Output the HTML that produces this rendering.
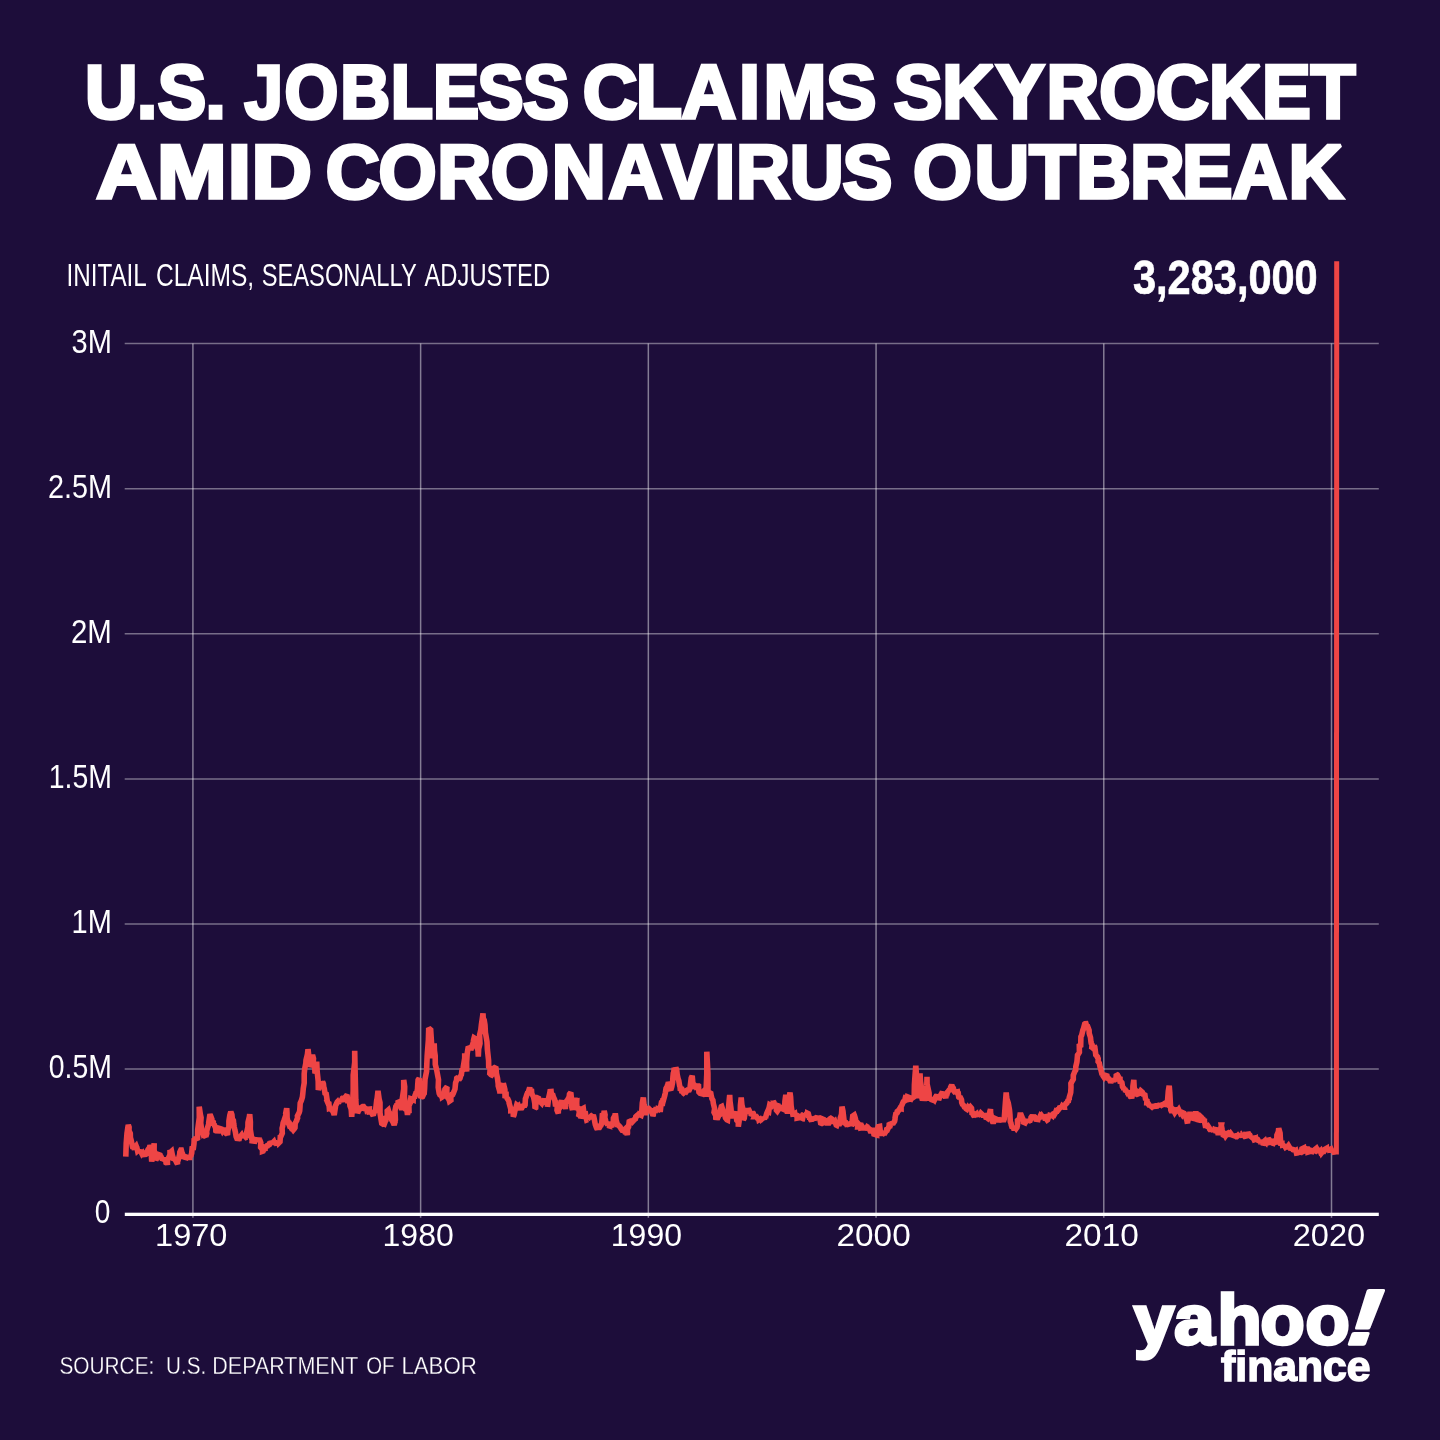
<!DOCTYPE html>
<html lang="en"><head><meta charset="utf-8"><title>U.S. Jobless Claims Skyrocket Amid Coronavirus Outbreak</title>
<style>
html,body{margin:0;padding:0;background:#1d0d3a;}
body{width:1440px;height:1440px;overflow:hidden;}
svg{display:block;}
text{font-family:"Liberation Sans",sans-serif;fill:#fff;}
.title{font-weight:bold;stroke:#fff;stroke-width:3.6px;stroke-linejoin:miter;stroke-miterlimit:2.5;}
.big{font-weight:bold;stroke:#fff;stroke-width:0.7px;stroke-linejoin:miter;}
.src{stroke:#1d0d3a;stroke-width:0.3px;paint-order:fill stroke;}
.logo{font-weight:bold;stroke:#fff;stroke-linejoin:miter;stroke-miterlimit:2.5;}
</style></head><body>
<svg width="1440" height="1440" viewBox="0 0 1440 1440">
<rect width="1440" height="1440" fill="#1d0d3a"/>
<text class="title" transform="scale(0.9464,1)" x="89.88 144.89 166.6 217.1" y="118.2" font-size="76.8">U.S.</text>
<text class="title" transform="scale(0.9005,1)" x="271.59 315.9 377.86 433.82 480.9 530.37 580.69" y="118.2" font-size="76.8">JOBLESS</text>
<text class="title" transform="scale(0.9850,1)" x="591.73 645.33 691.91 750.31 775.11 838.63" y="118.2" font-size="76.8">CLAIMS</text>
<text class="title" transform="scale(0.9522,1)" x="938.53 989.51 1045.67 1099.1 1154.5 1213.95 1269.8 1325.23 1376.52" y="118.2" font-size="76.8">SKYROCKET</text>
<text class="title" transform="scale(1.0891,1)" x="88.41 144.17 209.17 230.85" y="198.2" font-size="76.8">AMID</text>
<text class="title" transform="scale(0.9735,1)" x="334.52 388.79 449.22 504.17 566.79 625.0 680.39 734.02 756.07 811.26 865.35" y="198.2" font-size="76.8">CORONAVIRUS</text>
<text class="title" transform="scale(0.9868,1)" x="925.18 987.53 1043.14 1090.65 1145.09 1197.9 1248.75 1305.75" y="198.2" font-size="76.8">OUTBREAK</text>
<text class="sub" x="66.49" y="286.0" font-size="31.68" textLength="80.35" lengthAdjust="spacingAndGlyphs">INITAIL</text>
<text class="sub" x="155.97" y="286.0" font-size="31.68" textLength="98.2" lengthAdjust="spacingAndGlyphs">CLAIMS,</text>
<text class="sub" x="261.69" y="286.0" font-size="31.68" textLength="155.04" lengthAdjust="spacingAndGlyphs">SEASONALLY</text>
<text class="sub" x="424.47" y="286.0" font-size="31.68" textLength="125.62" lengthAdjust="spacingAndGlyphs">ADJUSTED</text>
<text class="big" x="1132.98" y="294.09" font-size="48.28" textLength="184.75" lengthAdjust="spacingAndGlyphs">3,283,000</text>
<g stroke="#fff" stroke-opacity="0.40" stroke-width="1.5" fill="none">
<line x1="124.7" y1="343.60" x2="1378.8" y2="343.60"/>
<line x1="124.7" y1="488.70" x2="1378.8" y2="488.70"/>
<line x1="124.7" y1="633.80" x2="1378.8" y2="633.80"/>
<line x1="124.7" y1="778.90" x2="1378.8" y2="778.90"/>
<line x1="124.7" y1="924.00" x2="1378.8" y2="924.00"/>
<line x1="124.7" y1="1069.10" x2="1378.8" y2="1069.10"/>
<line x1="192.90" y1="343.6" x2="192.90" y2="1217.8" stroke-opacity="0.46"/>
<line x1="420.62" y1="343.6" x2="420.62" y2="1217.8" stroke-opacity="0.46"/>
<line x1="648.34" y1="343.6" x2="648.34" y2="1217.8" stroke-opacity="0.46"/>
<line x1="876.06" y1="343.6" x2="876.06" y2="1217.8" stroke-opacity="0.46"/>
<line x1="1103.78" y1="343.6" x2="1103.78" y2="1217.8" stroke-opacity="0.46"/>
<line x1="1331.50" y1="343.6" x2="1331.50" y2="1217.8" stroke-opacity="0.46"/>
</g>
<rect x="124.8" y="1212.7" width="1254" height="3.3" fill="#fff"/>
<text class="ylab" x="71.51" y="353" font-size="33.79" textLength="40.4" lengthAdjust="spacingAndGlyphs">3M</text>
<text class="ylab" x="47.9" y="498" font-size="33.79" textLength="64.01" lengthAdjust="spacingAndGlyphs">2.5M</text>
<text class="ylab" x="70.92" y="643" font-size="33.79" textLength="40.95" lengthAdjust="spacingAndGlyphs">2M</text>
<text class="ylab" x="48.69" y="788" font-size="33.79" textLength="63.25" lengthAdjust="spacingAndGlyphs">1.5M</text>
<text class="ylab" x="71.6" y="933" font-size="33.79" textLength="40.31" lengthAdjust="spacingAndGlyphs">1M</text>
<text class="ylab" x="48.75" y="1078" font-size="33.79" textLength="63.16" lengthAdjust="spacingAndGlyphs">0.5M</text>
<text class="ylab" x="94.76" y="1223" font-size="33.79" textLength="15.63" lengthAdjust="spacingAndGlyphs">0</text>
<text class="xlab" x="155.09" y="1245.8" font-size="31.24" textLength="72.36" lengthAdjust="spacingAndGlyphs">1970</text>
<text class="xlab" x="382.55" y="1245.8" font-size="31.24" textLength="71.18" lengthAdjust="spacingAndGlyphs">1980</text>
<text class="xlab" x="610.83" y="1245.8" font-size="31.24" textLength="71.18" lengthAdjust="spacingAndGlyphs">1990</text>
<text class="xlab" x="836.56" y="1245.8" font-size="31.24" textLength="74.12" lengthAdjust="spacingAndGlyphs">2000</text>
<text class="xlab" x="1064.53" y="1245.8" font-size="31.24" textLength="74.29" lengthAdjust="spacingAndGlyphs">2010</text>
<text class="xlab" x="1292.74" y="1245.8" font-size="31.24" textLength="72.37" lengthAdjust="spacingAndGlyphs">2020</text>
<path d="M125.8,1156.7 L126.2,1143.5 L127.0,1133.3 L127.9,1127.3 L128.3,1125.0 L129.1,1127.2 L129.0,1130.6 L130.3,1133.3 L130.4,1137.5 L131.2,1140.4 L132.5,1146.7 L133.0,1148.3 L133.2,1145.9 L134.5,1149.4 L135.0,1147.2 L136.1,1145.9 L136.6,1147.2 L136.7,1148.3 L136.8,1147.3 L137.6,1151.0 L138.1,1150.6 L139.4,1150.3 L139.9,1149.5 L139.8,1150.8 L141.3,1152.4 L141.7,1153.3 L142.0,1153.9 L142.9,1152.9 L144.0,1154.8 L143.8,1154.5 L144.8,1156.0 L145.7,1153.7 L146.7,1153.1 L146.7,1155.0 L147.2,1154.1 L147.5,1151.0 L148.0,1149.7 L149.7,1147.3 L150.0,1145.0 L151.1,1149.7 L151.4,1156.5 L151.7,1161.7 L152.4,1156.9 L153.4,1154.5 L153.5,1148.6 L154.2,1143.3 L154.1,1149.8 L155.5,1156.6 L155.8,1160.0 L156.9,1158.3 L156.9,1159.3 L157.0,1157.7 L157.7,1155.5 L158.2,1157.6 L158.9,1154.6 L160.0,1155.0 L160.5,1157.3 L160.7,1156.0 L161.9,1158.6 L162.9,1159.1 L162.8,1157.8 L163.6,1160.4 L165.0,1157.8 L165.0,1160.0 L165.2,1160.1 L165.9,1162.4 L167.0,1162.7 L167.5,1165.0 L167.4,1160.9 L168.6,1157.8 L170.0,1154.6 L170.0,1150.0 L170.7,1152.2 L171.6,1151.4 L172.6,1156.2 L173.2,1158.0 L173.3,1158.3 L173.8,1158.7 L174.0,1160.6 L174.5,1158.9 L175.3,1160.2 L176.1,1160.5 L176.2,1161.8 L177.5,1164.2 L177.6,1160.7 L178.2,1160.1 L179.7,1154.1 L179.8,1152.2 L180.8,1150.0 L181.3,1150.0 L182.7,1155.5 L182.8,1154.9 L182.9,1154.9 L184.2,1158.3 L184.5,1157.2 L185.8,1156.6 L185.3,1160.0 L186.6,1156.3 L187.2,1155.7 L187.8,1159.7 L188.3,1157.5 L189.5,1157.5 L189.3,1155.2 L189.9,1156.2 L191.0,1155.4 L191.7,1153.3 L192.1,1148.4 L193.4,1148.0 L194.0,1143.4 L194.2,1138.3 L195.3,1139.7 L195.1,1139.1 L196.0,1137.3 L196.2,1138.7 L197.5,1140.0 L197.7,1129.7 L199.3,1117.5 L199.2,1106.7 L200.4,1114.6 L201.1,1117.7 L200.7,1123.0 L201.7,1130.0 L201.8,1129.7 L203.0,1133.7 L203.9,1132.8 L204.3,1135.1 L204.1,1135.5 L205.8,1137.0 L205.8,1136.7 L206.8,1133.4 L206.6,1131.5 L207.4,1128.3 L208.9,1123.4 L208.7,1122.6 L209.7,1115.9 L210.0,1114.2 L210.1,1114.5 L211.9,1119.2 L211.5,1121.1 L213.3,1122.2 L213.3,1123.3 L213.7,1125.0 L214.0,1124.1 L215.8,1128.3 L215.8,1131.0 L216.2,1132.1 L217.4,1130.6 L217.5,1133.3 L217.8,1130.8 L218.4,1130.4 L219.0,1128.0 L220.0,1126.7 L220.1,1129.1 L221.0,1127.7 L222.0,1130.3 L222.4,1131.0 L223.1,1129.9 L223.8,1128.3 L224.3,1129.6 L225.0,1131.7 L224.9,1133.8 L225.8,1133.2 L227.2,1134.4 L227.5,1135.0 L227.9,1130.4 L228.9,1126.9 L228.9,1121.3 L229.8,1115.4 L230.8,1111.7 L231.9,1114.7 L232.3,1118.8 L233.4,1120.4 L233.7,1123.7 L234.2,1126.7 L234.9,1130.2 L235.4,1132.1 L236.1,1136.6 L237.1,1139.0 L237.5,1140.0 L238.7,1138.2 L238.8,1140.5 L239.8,1136.3 L239.4,1136.9 L239.9,1135.3 L240.5,1136.5 L241.7,1135.0 L242.7,1137.0 L242.4,1136.4 L243.8,1134.1 L244.7,1137.9 L244.4,1138.0 L245.3,1136.2 L246.7,1137.9 L246.7,1136.7 L246.8,1131.9 L247.9,1127.0 L248.0,1122.4 L249.4,1116.6 L249.7,1114.2 L250.4,1122.0 L250.3,1129.5 L251.7,1138.3 L252.4,1138.6 L252.2,1140.9 L253.9,1141.1 L253.5,1138.3 L254.0,1140.8 L254.9,1138.1 L255.8,1140.0 L256.4,1141.5 L257.6,1138.3 L257.3,1140.8 L258.6,1139.5 L259.2,1138.3 L259.3,1138.7 L260.8,1142.7 L260.6,1147.3 L262.0,1149.0 L262.5,1150.0 L262.5,1151.3 L263.1,1151.1 L264.2,1148.6 L265.0,1150.9 L265.2,1147.2 L266.1,1147.4 L266.7,1148.3 L266.7,1146.1 L267.2,1145.6 L268.2,1145.3 L269.4,1144.6 L269.6,1143.3 L270.0,1141.9 L270.8,1143.3 L271.1,1141.2 L272.4,1143.6 L272.2,1143.2 L273.8,1141.6 L274.3,1143.0 L274.4,1144.8 L275.0,1143.3 L275.5,1143.2 L276.5,1145.0 L276.7,1144.2 L277.8,1143.1 L278.0,1141.6 L278.1,1140.5 L278.8,1142.9 L280.0,1141.7 L280.3,1137.1 L280.6,1137.0 L282.3,1133.1 L282.1,1128.2 L282.7,1126.0 L283.1,1122.9 L284.2,1120.0 L284.5,1119.1 L286.1,1114.4 L285.7,1113.3 L286.7,1108.3 L287.0,1112.7 L287.1,1117.8 L288.3,1123.3 L288.9,1124.2 L289.2,1125.0 L289.5,1124.8 L290.3,1126.2 L290.8,1125.4 L291.8,1127.2 L292.8,1129.3 L293.3,1130.0 L294.4,1128.7 L295.0,1127.7 L295.2,1123.2 L296.7,1120.5 L296.7,1120.0 L297.6,1118.0 L297.4,1116.1 L299.2,1112.6 L299.7,1110.7 L300.0,1106.7 L300.2,1103.1 L301.3,1100.8 L302.4,1097.1 L302.8,1093.7 L303.3,1088.3 L304.2,1082.9 L304.2,1073.8 L304.7,1069.0 L305.8,1063.3 L306.0,1060.1 L307.4,1054.5 L308.0,1049.2 L308.8,1055.8 L309.3,1058.6 L310.0,1066.7 L311.0,1064.8 L311.3,1061.0 L312.1,1056.0 L312.5,1055.0 L313.5,1058.5 L313.2,1063.1 L314.7,1067.5 L315.0,1073.3 L315.9,1071.5 L316.1,1065.0 L316.7,1061.7 L317.2,1071.9 L318.2,1081.1 L318.3,1090.0 L319.1,1087.0 L319.0,1086.5 L320.5,1085.6 L320.8,1083.1 L320.7,1083.0 L322.1,1083.7 L322.5,1081.7 L323.4,1083.7 L323.8,1087.3 L324.3,1088.7 L325.0,1093.3 L326.2,1094.0 L327.0,1099.3 L326.3,1099.2 L328.1,1103.4 L328.3,1103.3 L328.9,1103.6 L329.3,1108.0 L329.9,1107.7 L330.5,1108.8 L331.7,1110.0 L332.9,1109.6 L333.4,1112.5 L334.1,1114.6 L334.2,1115.0 L334.4,1113.8 L335.4,1107.1 L335.3,1106.2 L336.7,1103.3 L337.2,1102.0 L337.4,1101.8 L338.3,1103.6 L338.5,1102.8 L340.3,1099.6 L341.0,1101.8 L341.6,1099.5 L341.7,1100.0 L342.1,1099.1 L343.6,1099.4 L343.3,1098.3 L343.7,1096.1 L344.1,1099.1 L344.9,1099.1 L345.8,1096.7 L346.1,1096.3 L347.2,1096.6 L347.7,1100.7 L349.0,1100.7 L349.2,1100.0 L350.0,1106.0 L351.0,1108.5 L351.3,1110.5 L351.7,1116.7 L352.6,1103.3 L353.2,1091.0 L353.2,1075.2 L354.7,1062.4 L354.7,1050.8 L355.2,1074.7 L355.8,1100.0 L356.1,1105.5 L357.6,1107.8 L357.5,1113.3 L358.3,1111.2 L358.8,1110.4 L358.9,1108.1 L360.0,1108.3 L360.2,1110.1 L361.2,1107.1 L362.4,1110.5 L362.4,1106.7 L362.7,1106.5 L363.5,1106.5 L364.0,1107.3 L365.0,1108.3 L365.7,1110.5 L366.6,1108.8 L366.8,1109.7 L367.3,1109.3 L367.5,1109.4 L369.4,1109.2 L369.4,1111.8 L370.0,1111.7 L371.2,1111.1 L371.0,1111.9 L371.9,1113.4 L373.3,1115.9 L373.3,1115.0 L374.5,1111.2 L373.9,1112.6 L375.8,1109.9 L375.8,1108.3 L376.7,1100.3 L377.1,1098.5 L378.0,1090.8 L379.1,1098.8 L380.0,1102.5 L380.0,1110.0 L380.0,1112.9 L381.1,1119.7 L381.7,1123.3 L382.9,1124.1 L383.1,1124.0 L383.4,1122.8 L383.4,1123.6 L384.3,1124.0 L385.4,1121.0 L385.8,1121.7 L385.9,1117.7 L387.3,1116.7 L387.2,1111.0 L388.3,1110.0 L389.0,1112.4 L389.5,1112.8 L390.5,1113.8 L390.7,1117.8 L391.7,1120.0 L392.9,1121.9 L393.5,1122.4 L393.2,1122.6 L394.2,1125.0 L395.4,1119.8 L395.0,1110.7 L395.8,1106.7 L396.5,1106.4 L397.1,1103.6 L398.1,1105.5 L398.1,1100.6 L399.2,1101.7 L399.6,1103.4 L400.7,1104.5 L401.5,1109.0 L401.7,1110.0 L402.3,1098.7 L403.7,1089.2 L403.7,1080.0 L404.7,1086.6 L404.4,1096.7 L405.3,1103.3 L405.8,1109.2 L406.8,1109.7 L407.5,1115.0 L407.7,1111.7 L409.0,1111.1 L408.9,1105.8 L410.0,1103.3 L410.3,1104.1 L410.8,1098.7 L411.4,1098.9 L413.2,1099.7 L413.3,1096.7 L414.3,1098.2 L415.3,1094.6 L414.9,1096.6 L416.3,1091.9 L416.7,1093.3 L417.5,1089.0 L417.7,1085.1 L418.1,1079.9 L419.2,1078.3 L419.4,1084.3 L420.9,1090.0 L420.8,1098.3 L422.1,1096.0 L422.0,1097.7 L423.3,1095.0 L422.9,1094.2 L424.2,1093.3 L424.6,1088.5 L425.0,1079.4 L426.6,1071.3 L426.7,1066.7 L427.2,1055.5 L428.4,1039.6 L428.7,1029.2 L428.7,1028.1 L430.7,1029.8 L430.8,1031.7 L431.8,1046.8 L432.0,1058.3 L432.5,1052.3 L434.1,1048.8 L434.2,1043.3 L434.5,1051.0 L435.2,1055.7 L435.3,1064.5 L436.7,1070.0 L437.9,1076.4 L438.5,1079.6 L438.2,1087.4 L439.2,1093.3 L440.5,1096.0 L440.3,1093.6 L441.1,1095.3 L442.4,1094.6 L442.5,1096.7 L443.6,1096.0 L444.3,1094.5 L444.7,1090.9 L444.9,1089.4 L445.8,1088.3 L446.9,1088.8 L446.7,1094.1 L447.5,1093.4 L447.8,1097.9 L449.2,1100.0 L449.5,1101.2 L450.9,1100.2 L450.6,1095.3 L451.0,1096.2 L452.4,1095.0 L452.4,1093.9 L453.3,1093.3 L454.2,1091.1 L455.0,1088.9 L455.6,1082.7 L456.5,1080.4 L456.7,1078.3 L457.4,1077.8 L458.3,1077.0 L458.3,1077.2 L458.8,1080.0 L460.0,1078.3 L460.8,1075.2 L461.2,1075.8 L462.0,1070.2 L463.1,1069.7 L463.3,1066.7 L464.7,1058.3 L464.7,1053.3 L465.3,1060.8 L466.5,1067.4 L466.7,1071.7 L466.6,1062.4 L467.2,1053.6 L468.3,1046.7 L469.6,1047.9 L470.2,1047.8 L470.7,1048.9 L470.8,1050.0 L471.1,1049.1 L472.7,1044.1 L472.8,1044.3 L473.3,1041.7 L473.6,1039.8 L474.1,1037.9 L474.9,1038.4 L475.8,1036.7 L476.7,1040.4 L476.4,1045.9 L478.0,1050.3 L478.3,1056.7 L478.7,1048.7 L480.0,1043.5 L479.6,1034.9 L480.8,1030.0 L481.4,1024.7 L482.5,1017.1 L483.0,1013.3 L483.2,1018.1 L484.2,1020.2 L485.0,1025.0 L485.4,1032.5 L486.1,1036.4 L487.0,1041.7 L487.4,1049.6 L488.6,1060.5 L488.7,1066.7 L489.1,1067.0 L490.2,1068.7 L489.8,1073.4 L491.0,1074.7 L491.7,1075.0 L492.1,1074.5 L492.7,1069.1 L493.3,1068.3 L493.3,1068.1 L494.8,1069.3 L494.6,1067.6 L495.8,1066.7 L496.2,1070.6 L496.4,1073.5 L497.5,1078.3 L498.2,1084.0 L498.2,1085.8 L499.8,1091.6 L500.0,1093.3 L500.2,1089.7 L502.0,1091.4 L502.0,1085.4 L503.3,1084.8 L503.3,1083.3 L504.5,1087.8 L504.9,1089.6 L505.0,1095.0 L506.1,1094.8 L506.2,1098.5 L507.5,1096.6 L507.3,1098.6 L508.3,1100.0 L509.0,1101.6 L509.1,1103.1 L510.5,1108.0 L510.8,1108.3 L510.8,1110.7 L512.4,1110.5 L513.2,1112.9 L513.3,1116.7 L514.1,1114.6 L514.8,1111.1 L515.2,1110.0 L515.9,1108.0 L516.7,1105.0 L517.2,1105.4 L517.2,1107.0 L518.4,1106.0 L519.4,1109.1 L519.6,1107.2 L520.2,1107.6 L520.8,1110.0 L521.0,1109.0 L521.6,1108.4 L522.8,1106.0 L523.7,1105.5 L524.2,1106.7 L525.1,1105.0 L525.4,1098.9 L526.0,1097.4 L526.7,1095.0 L527.9,1091.9 L528.4,1094.2 L528.8,1091.9 L528.6,1091.1 L529.7,1087.5 L530.2,1091.0 L531.4,1089.0 L531.8,1093.9 L531.3,1092.8 L532.5,1095.0 L533.5,1096.8 L534.3,1100.7 L534.8,1103.4 L535.0,1108.3 L535.7,1107.8 L535.9,1102.6 L537.0,1100.5 L537.0,1097.6 L538.3,1096.7 L538.5,1099.9 L539.9,1101.1 L539.9,1101.9 L540.5,1102.1 L541.7,1103.3 L542.5,1101.5 L543.4,1101.1 L543.7,1101.3 L544.2,1098.3 L544.3,1102.2 L545.7,1101.2 L546.6,1102.3 L547.5,1105.3 L547.5,1106.7 L547.9,1104.1 L548.7,1097.7 L549.7,1093.4 L550.0,1091.7 L551.1,1091.6 L551.5,1095.8 L552.1,1095.4 L552.4,1093.5 L553.3,1096.7 L553.3,1096.8 L554.7,1099.7 L555.2,1103.4 L555.8,1103.3 L555.9,1104.6 L557.3,1106.2 L557.0,1110.2 L558.3,1113.3 L558.4,1110.0 L559.3,1108.4 L560.5,1104.0 L561.2,1102.6 L561.7,1100.0 L561.8,1103.6 L562.6,1101.8 L563.0,1105.6 L564.2,1106.7 L565.4,1106.6 L565.4,1103.0 L565.5,1103.3 L566.9,1100.7 L567.5,1100.0 L568.4,1098.3 L569.4,1098.0 L569.1,1097.3 L569.5,1094.1 L570.8,1092.5 L571.3,1097.2 L571.3,1105.4 L572.5,1110.0 L572.4,1107.3 L574.4,1102.6 L574.0,1101.7 L575.0,1098.3 L575.7,1101.0 L576.8,1100.9 L576.7,1103.5 L577.0,1108.0 L578.3,1108.3 L579.4,1111.8 L578.9,1114.8 L580.6,1115.7 L580.8,1118.3 L581.8,1115.6 L581.7,1111.6 L582.3,1108.8 L583.3,1108.3 L583.8,1111.8 L584.9,1114.5 L585.6,1114.3 L586.1,1117.4 L586.7,1120.0 L587.7,1119.6 L587.5,1119.7 L589.1,1117.3 L589.6,1116.0 L589.3,1116.5 L590.6,1119.1 L590.8,1116.7 L591.8,1115.5 L592.6,1115.1 L592.3,1117.2 L593.3,1115.0 L594.2,1118.5 L594.9,1122.4 L595.3,1124.5 L596.3,1127.2 L596.7,1128.3 L597.2,1129.0 L598.1,1126.8 L598.3,1127.9 L598.7,1128.8 L600.0,1126.7 L600.1,1123.5 L600.6,1126.3 L601.7,1123.3 L602.1,1118.6 L602.3,1115.1 L603.8,1114.5 L604.2,1110.8 L605.1,1115.0 L604.8,1117.5 L605.9,1121.6 L606.7,1123.3 L607.8,1125.2 L607.4,1125.3 L609.2,1125.8 L608.8,1122.7 L610.0,1124.2 L610.1,1122.0 L611.8,1125.2 L612.2,1125.1 L612.9,1122.6 L613.3,1123.3 L613.4,1118.2 L615.0,1115.4 L615.3,1113.3 L615.8,1116.9 L616.1,1120.0 L617.5,1125.0 L617.9,1126.6 L618.6,1125.5 L620.1,1127.0 L620.7,1128.2 L620.8,1128.3 L620.8,1128.3 L622.1,1130.2 L622.6,1130.2 L623.6,1128.4 L624.2,1130.0 L625.3,1128.9 L625.9,1129.9 L625.5,1130.7 L627.2,1134.8 L627.5,1133.3 L627.4,1129.4 L628.6,1126.9 L629.2,1121.7 L629.4,1121.6 L630.3,1123.1 L630.8,1123.6 L631.5,1120.4 L632.5,1121.7 L633.4,1120.7 L633.3,1120.3 L633.9,1119.9 L635.4,1118.9 L635.8,1116.7 L636.7,1115.9 L637.0,1115.9 L638.4,1114.3 L639.0,1113.9 L639.2,1115.8 L639.5,1114.5 L641.2,1115.3 L641.3,1115.0 L641.8,1110.9 L642.3,1103.2 L643.3,1097.5 L644.0,1104.5 L645.0,1109.8 L645.3,1115.0 L645.8,1111.5 L646.3,1111.0 L647.5,1106.7 L648.4,1108.6 L648.3,1108.1 L649.8,1109.5 L650.0,1110.0 L650.1,1110.8 L651.9,1110.8 L651.6,1112.1 L653.0,1115.5 L653.3,1115.0 L653.5,1112.2 L654.2,1111.7 L655.2,1109.8 L655.8,1110.0 L656.3,1108.5 L657.8,1110.7 L657.3,1111.5 L657.9,1108.8 L659.2,1109.2 L660.5,1109.3 L660.8,1106.5 L660.7,1106.3 L661.3,1103.2 L662.5,1103.3 L663.0,1098.6 L663.7,1099.3 L664.8,1095.3 L665.4,1092.5 L665.8,1090.0 L666.0,1088.4 L666.9,1086.9 L668.3,1083.4 L668.3,1081.7 L669.1,1084.8 L669.5,1084.6 L670.5,1089.6 L670.8,1090.0 L671.8,1086.7 L672.6,1082.5 L672.9,1077.3 L673.3,1073.3 L673.7,1072.4 L674.0,1070.1 L675.6,1069.9 L675.8,1067.5 L676.7,1070.0 L677.2,1074.5 L678.0,1078.3 L678.8,1080.7 L679.6,1085.8 L680.0,1086.7 L680.2,1088.8 L681.6,1089.1 L681.9,1093.1 L682.5,1092.5 L682.5,1092.4 L683.4,1093.1 L685.1,1091.6 L684.6,1091.5 L685.8,1090.8 L686.5,1091.4 L687.0,1090.7 L688.1,1089.9 L688.1,1091.4 L688.4,1089.9 L689.3,1089.8 L690.0,1088.3 L690.2,1086.3 L691.2,1078.0 L692.2,1075.8 L692.5,1079.0 L692.8,1082.7 L694.2,1086.7 L694.7,1086.9 L695.3,1084.3 L695.8,1085.7 L697.4,1084.1 L697.5,1083.3 L697.7,1087.2 L698.6,1087.1 L698.9,1092.1 L700.0,1093.3 L701.1,1093.6 L701.3,1092.9 L701.6,1094.4 L702.5,1092.6 L703.3,1091.7 L704.4,1094.3 L704.5,1093.3 L705.3,1093.8 L705.8,1096.7 L706.8,1073.5 L706.8,1051.7 L707.9,1073.1 L708.0,1096.7 L708.4,1094.9 L709.0,1094.0 L709.0,1095.6 L710.0,1092.9 L710.8,1093.3 L711.2,1095.7 L712.0,1098.9 L712.9,1100.2 L713.3,1103.3 L714.6,1108.6 L714.0,1112.3 L715.8,1115.8 L715.8,1118.3 L716.0,1119.5 L717.4,1115.5 L717.1,1119.3 L718.7,1115.9 L719.2,1116.7 L719.3,1111.8 L720.2,1111.2 L721.3,1106.7 L721.7,1106.5 L723.0,1110.6 L722.6,1112.4 L723.8,1113.2 L724.2,1113.3 L725.1,1116.4 L725.9,1117.5 L725.7,1118.2 L726.9,1119.7 L727.5,1120.0 L728.1,1113.4 L729.0,1102.3 L729.7,1095.0 L730.0,1101.2 L731.0,1108.6 L731.7,1118.3 L732.3,1115.4 L733.0,1115.7 L733.7,1115.9 L733.6,1114.5 L735.0,1111.7 L735.6,1114.9 L736.6,1119.2 L736.8,1120.3 L738.3,1121.8 L738.3,1126.7 L739.1,1121.4 L738.8,1115.5 L740.3,1111.1 L740.4,1105.5 L741.2,1097.5 L741.9,1104.9 L743.2,1110.4 L743.3,1120.0 L744.3,1118.2 L744.4,1116.9 L745.1,1112.9 L746.0,1111.9 L746.7,1108.3 L746.9,1109.0 L747.9,1110.6 L749.1,1110.4 L749.8,1111.9 L750.0,1113.3 L750.7,1112.3 L751.3,1115.4 L752.2,1114.6 L752.4,1112.5 L753.3,1113.3 L753.6,1114.4 L754.7,1116.0 L754.5,1116.5 L756.3,1116.4 L755.7,1116.0 L756.2,1116.3 L757.5,1118.3 L758.7,1118.9 L758.9,1119.8 L759.9,1119.2 L760.0,1119.4 L760.8,1119.4 L761.3,1117.8 L761.7,1119.2 L762.5,1118.6 L763.2,1116.7 L763.0,1116.1 L764.4,1119.6 L764.9,1116.8 L765.7,1118.3 L765.8,1116.7 L766.6,1113.9 L766.9,1113.0 L767.6,1111.4 L768.7,1111.9 L769.2,1108.3 L769.1,1107.7 L769.7,1104.8 L771.4,1105.8 L772.1,1104.3 L771.5,1103.1 L772.9,1104.5 L773.3,1101.7 L774.7,1103.2 L774.5,1103.2 L775.5,1105.4 L775.5,1106.2 L776.7,1110.0 L776.6,1110.3 L777.3,1111.1 L777.9,1110.2 L778.5,1106.0 L779.9,1106.5 L780.6,1105.8 L780.8,1106.7 L780.9,1108.2 L782.5,1108.9 L783.2,1105.8 L783.7,1108.9 L784.2,1108.3 L784.7,1105.8 L784.9,1101.5 L785.8,1095.0 L786.7,1099.0 L786.3,1107.9 L787.5,1113.3 L788.6,1106.3 L788.5,1103.9 L788.9,1099.3 L790.0,1092.5 L790.6,1097.0 L791.1,1105.6 L792.0,1111.7 L792.6,1113.0 L792.8,1114.1 L793.7,1114.0 L794.7,1113.5 L795.0,1115.7 L795.8,1115.0 L797.1,1116.6 L797.3,1114.8 L797.2,1118.1 L798.8,1117.8 L799.2,1116.7 L799.5,1116.9 L801.0,1117.6 L801.1,1115.1 L801.4,1117.4 L802.0,1116.3 L802.9,1117.0 L803.3,1115.0 L804.4,1113.8 L803.8,1113.5 L805.0,1114.7 L806.2,1115.8 L805.7,1115.3 L807.3,1115.2 L807.5,1113.3 L808.3,1113.7 L809.3,1117.4 L809.8,1119.2 L810.0,1116.8 L810.8,1120.0 L811.5,1121.1 L811.6,1120.6 L813.2,1118.1 L813.4,1119.8 L813.8,1117.5 L814.1,1119.7 L815.0,1118.3 L816.1,1117.8 L815.8,1119.0 L817.4,1116.2 L817.8,1118.7 L818.3,1116.7 L819.5,1118.1 L819.6,1119.7 L819.9,1119.3 L820.6,1122.9 L821.7,1123.3 L822.1,1123.0 L822.9,1122.1 L823.2,1119.3 L825.0,1120.1 L825.0,1120.0 L825.1,1121.8 L826.7,1121.0 L827.0,1123.1 L827.5,1125.0 L828.2,1121.6 L828.2,1124.5 L830.0,1120.9 L830.3,1118.6 L830.8,1118.3 L831.9,1119.0 L832.8,1121.5 L833.3,1123.4 L833.2,1120.3 L834.2,1123.3 L834.4,1121.9 L834.9,1121.4 L836.2,1125.0 L836.8,1125.3 L837.5,1123.3 L838.7,1121.4 L838.9,1122.9 L838.8,1125.4 L840.0,1123.3 L840.3,1118.1 L841.5,1114.2 L842.0,1106.7 L843.0,1111.2 L843.4,1115.2 L844.2,1121.7 L845.5,1124.5 L845.1,1121.0 L845.8,1123.0 L847.4,1126.1 L847.5,1125.0 L848.6,1122.7 L849.2,1125.3 L849.7,1126.1 L849.5,1122.1 L850.8,1123.3 L851.9,1123.6 L852.4,1119.1 L853.0,1119.5 L852.9,1115.9 L854.2,1115.0 L854.5,1115.8 L855.4,1118.5 L855.7,1120.9 L856.7,1125.0 L857.5,1122.9 L858.2,1123.7 L857.8,1126.9 L858.7,1126.9 L860.2,1126.7 L859.7,1124.8 L860.8,1125.0 L860.9,1127.9 L862.6,1127.6 L862.8,1127.3 L864.0,1128.9 L864.2,1130.0 L864.9,1128.1 L865.0,1127.3 L866.3,1129.2 L866.1,1130.2 L866.8,1127.8 L867.3,1126.9 L868.3,1127.5 L869.4,1127.1 L869.1,1128.2 L869.9,1130.3 L870.2,1131.0 L870.7,1131.0 L872.1,1128.4 L872.5,1130.0 L873.1,1130.3 L873.4,1131.2 L874.2,1135.9 L875.0,1135.0 L876.4,1135.2 L875.8,1130.7 L877.6,1128.1 L878.0,1127.4 L878.3,1126.7 L879.7,1126.4 L880.1,1129.6 L879.8,1130.0 L881.5,1134.1 L881.7,1135.8 L881.8,1135.0 L883.4,1133.4 L883.6,1132.5 L883.6,1134.6 L884.9,1131.5 L884.6,1130.4 L885.8,1131.7 L886.7,1130.3 L886.9,1127.7 L888.0,1128.6 L888.9,1126.7 L889.2,1125.0 L889.3,1122.9 L890.7,1124.1 L891.3,1122.3 L892.0,1123.3 L892.6,1125.4 L892.7,1121.4 L893.3,1123.3 L894.6,1121.2 L895.2,1118.3 L894.9,1118.8 L895.8,1113.9 L896.7,1113.3 L897.2,1112.8 L897.3,1111.4 L898.6,1110.4 L898.8,1110.3 L900.0,1108.3 L901.1,1108.6 L901.1,1106.6 L901.8,1105.4 L902.1,1104.6 L903.3,1101.7 L904.6,1101.0 L904.7,1100.5 L905.4,1097.6 L906.7,1097.8 L906.7,1098.3 L906.8,1096.7 L907.5,1100.0 L907.8,1096.9 L909.3,1097.5 L909.0,1099.4 L910.3,1099.1 L910.8,1099.2 L911.8,1096.9 L912.7,1099.1 L912.2,1096.0 L913.5,1097.2 L914.2,1096.7 L914.4,1084.7 L915.1,1074.5 L915.8,1065.8 L916.7,1078.3 L916.8,1087.8 L918.0,1098.3 L919.0,1088.5 L919.8,1083.6 L920.0,1073.3 L920.5,1081.3 L921.8,1090.1 L922.0,1098.3 L922.5,1100.3 L923.6,1097.6 L923.4,1097.6 L924.3,1100.5 L925.0,1098.3 L926.1,1092.9 L926.8,1085.4 L927.0,1076.7 L927.1,1084.0 L929.1,1093.0 L929.2,1098.3 L929.5,1098.3 L930.7,1098.4 L931.2,1097.4 L931.7,1099.7 L932.5,1100.0 L932.5,1097.7 L934.5,1099.9 L935.1,1098.6 L935.6,1099.0 L935.8,1096.7 L937.0,1095.0 L937.4,1096.3 L938.1,1096.7 L938.6,1099.9 L939.2,1098.3 L940.0,1095.9 L940.5,1095.4 L941.8,1093.4 L941.6,1093.6 L942.5,1091.7 L942.6,1093.4 L944.5,1094.4 L944.2,1095.5 L945.2,1095.5 L945.8,1098.3 L946.0,1095.0 L946.9,1094.6 L947.5,1092.2 L947.9,1091.9 L949.2,1090.0 L950.3,1089.2 L950.5,1088.2 L950.6,1087.2 L951.7,1085.0 L952.3,1086.7 L953.2,1087.9 L953.4,1088.4 L953.9,1091.1 L955.0,1092.5 L955.5,1093.0 L955.6,1092.2 L957.5,1091.8 L957.7,1093.1 L958.3,1093.3 L958.7,1097.1 L959.4,1097.9 L959.9,1096.4 L961.5,1099.7 L961.7,1101.7 L961.7,1102.5 L962.9,1105.4 L963.1,1104.5 L965.0,1108.1 L965.0,1108.3 L965.1,1107.4 L966.0,1108.6 L966.9,1109.2 L967.8,1107.5 L968.3,1108.2 L968.9,1106.8 L969.2,1106.7 L970.2,1108.8 L970.9,1107.4 L971.5,1108.1 L971.9,1111.8 L972.1,1114.7 L972.8,1113.4 L973.3,1115.0 L974.4,1116.6 L974.7,1114.5 L975.1,1114.8 L976.1,1114.1 L976.3,1115.2 L976.9,1114.2 L978.1,1116.5 L978.3,1115.0 L979.0,1114.8 L979.1,1114.1 L979.7,1115.3 L980.9,1113.2 L982.0,1114.2 L982.6,1116.5 L983.4,1113.7 L983.3,1115.0 L983.8,1117.3 L983.8,1114.0 L985.2,1116.4 L986.3,1118.1 L986.4,1119.6 L986.9,1117.9 L987.5,1118.3 L988.4,1116.0 L988.5,1115.1 L989.1,1114.8 L990.1,1111.1 L990.5,1109.2 L990.6,1112.8 L991.7,1117.8 L992.5,1121.7 L993.2,1123.0 L994.3,1120.9 L994.2,1121.1 L995.6,1119.5 L995.5,1121.3 L995.6,1118.7 L996.7,1119.2 L997.9,1120.7 L997.9,1117.7 L999.0,1120.4 L999.5,1121.8 L1000.2,1119.4 L999.8,1119.0 L1000.8,1120.0 L1001.5,1119.9 L1001.7,1118.3 L1003.0,1120.0 L1003.3,1121.5 L1004.2,1119.2 L1005.0,1108.3 L1005.4,1102.7 L1006.2,1092.5 L1006.6,1097.0 L1006.9,1098.9 L1008.3,1103.3 L1009.5,1109.8 L1009.9,1114.2 L1010.3,1121.7 L1011.0,1123.3 L1011.3,1125.1 L1012.3,1128.0 L1013.0,1126.8 L1013.0,1127.1 L1014.2,1130.0 L1015.2,1127.3 L1014.9,1126.6 L1016.2,1128.4 L1017.0,1127.3 L1017.5,1125.0 L1017.5,1120.4 L1019.1,1119.2 L1019.7,1116.9 L1020.0,1115.0 L1020.2,1115.0 L1020.8,1118.8 L1022.1,1117.3 L1022.6,1118.5 L1023.3,1120.0 L1023.4,1122.1 L1024.8,1122.7 L1025.2,1121.5 L1025.6,1119.3 L1026.7,1121.7 L1027.9,1122.9 L1027.7,1122.8 L1029.1,1119.8 L1029.5,1122.4 L1030.0,1120.0 L1030.7,1121.0 L1031.0,1117.5 L1032.3,1115.8 L1032.4,1117.7 L1033.3,1115.0 L1034.0,1117.6 L1034.3,1116.2 L1035.1,1117.6 L1036.7,1119.4 L1036.7,1121.7 L1037.4,1119.0 L1038.0,1119.2 L1038.5,1116.8 L1038.8,1119.1 L1040.0,1116.7 L1040.4,1115.8 L1040.8,1116.2 L1041.5,1115.4 L1042.7,1117.0 L1042.6,1118.9 L1043.2,1117.2 L1044.8,1116.9 L1045.0,1118.8 L1045.5,1120.1 L1046.6,1116.9 L1046.6,1119.2 L1047.2,1120.1 L1047.6,1119.8 L1048.6,1116.5 L1049.2,1117.5 L1049.8,1115.5 L1050.8,1115.8 L1051.7,1116.9 L1051.6,1115.1 L1052.5,1115.8 L1053.2,1113.9 L1054.2,1112.7 L1054.3,1113.9 L1054.6,1114.2 L1055.3,1113.0 L1056.2,1110.7 L1056.7,1110.8 L1057.1,1108.5 L1057.4,1111.4 L1058.2,1110.1 L1058.5,1109.2 L1059.4,1108.5 L1060.0,1106.1 L1060.8,1107.5 L1061.2,1105.9 L1061.5,1107.7 L1062.3,1106.0 L1063.8,1107.3 L1064.3,1107.3 L1063.9,1104.4 L1065.0,1105.0 L1064.9,1105.1 L1066.4,1102.9 L1066.7,1103.6 L1067.7,1101.0 L1068.5,1100.8 L1068.8,1099.3 L1069.2,1100.0 L1069.2,1097.6 L1070.7,1092.6 L1071.0,1087.5 L1070.9,1083.4 L1071.7,1082.0 L1072.5,1080.7 L1073.3,1079.2 L1073.3,1075.2 L1074.8,1071.5 L1075.7,1070.1 L1075.8,1066.7 L1076.8,1062.5 L1077.0,1061.2 L1077.5,1055.1 L1078.3,1054.2 L1079.4,1052.3 L1079.3,1045.9 L1080.7,1045.3 L1080.8,1041.7 L1080.9,1036.7 L1081.7,1035.2 L1082.9,1030.0 L1083.2,1029.7 L1084.7,1024.0 L1085.0,1023.8 L1086.0,1023.7 L1086.7,1026.0 L1087.1,1025.0 L1087.5,1026.0 L1089.1,1030.2 L1089.2,1033.3 L1090.5,1037.5 L1090.9,1041.5 L1091.2,1043.3 L1092.0,1044.6 L1091.8,1047.2 L1092.9,1047.9 L1094.2,1047.7 L1094.2,1050.8 L1095.2,1050.2 L1095.8,1054.8 L1095.8,1055.0 L1097.5,1056.8 L1097.5,1057.5 L1098.2,1058.7 L1098.1,1061.5 L1099.3,1063.1 L1100.0,1066.7 L1100.4,1067.8 L1101.7,1073.0 L1102.1,1075.0 L1102.4,1074.7 L1103.5,1076.4 L1104.2,1077.5 L1105.4,1076.0 L1105.1,1077.5 L1105.5,1075.3 L1106.7,1074.2 L1107.1,1076.8 L1108.0,1077.8 L1108.1,1078.6 L1109.2,1079.2 L1109.9,1080.1 L1110.7,1082.8 L1110.8,1082.5 L1110.9,1081.3 L1111.9,1080.6 L1112.1,1080.6 L1113.3,1081.2 L1113.5,1081.6 L1114.5,1078.5 L1115.0,1079.5 L1115.8,1079.2 L1116.2,1076.3 L1116.3,1074.2 L1117.5,1075.0 L1118.8,1077.4 L1118.2,1078.5 L1120.0,1079.0 L1120.0,1080.0 L1120.1,1081.6 L1121.2,1082.0 L1121.9,1082.8 L1122.5,1086.7 L1123.7,1088.1 L1123.9,1090.2 L1124.6,1088.1 L1125.0,1090.0 L1125.3,1088.8 L1125.6,1092.0 L1127.4,1090.4 L1127.5,1091.7 L1127.7,1093.3 L1129.2,1095.6 L1128.9,1096.0 L1130.0,1095.8 L1131.0,1097.7 L1130.9,1096.1 L1131.7,1098.3 L1132.8,1091.4 L1132.9,1086.3 L1133.8,1080.0 L1134.2,1087.3 L1135.0,1091.7 L1135.2,1090.5 L1136.2,1093.9 L1136.7,1094.2 L1137.8,1094.7 L1138.6,1095.5 L1138.7,1093.2 L1138.9,1092.0 L1140.0,1092.5 L1140.8,1091.0 L1141.6,1091.7 L1141.9,1095.6 L1142.1,1091.8 L1143.3,1094.2 L1143.9,1094.3 L1144.9,1094.9 L1145.7,1100.1 L1145.8,1100.0 L1146.9,1100.7 L1146.8,1102.8 L1147.7,1102.8 L1148.3,1104.2 L1148.8,1104.4 L1149.9,1106.6 L1150.9,1104.2 L1150.7,1105.9 L1151.7,1106.7 L1152.4,1105.8 L1152.6,1104.5 L1153.4,1106.0 L1155.0,1107.8 L1155.0,1105.8 L1156.1,1107.8 L1156.8,1106.1 L1157.2,1103.5 L1157.6,1105.8 L1157.7,1105.6 L1159.2,1105.0 L1159.2,1105.0 L1160.0,1104.1 L1160.2,1106.7 L1160.4,1103.6 L1161.7,1105.0 L1162.6,1104.4 L1162.4,1105.0 L1163.5,1104.4 L1164.2,1103.8 L1165.0,1103.3 L1165.7,1103.7 L1165.7,1103.6 L1167.4,1106.0 L1167.5,1106.7 L1167.5,1101.3 L1168.3,1091.0 L1169.2,1085.8 L1169.8,1092.8 L1170.3,1102.2 L1170.8,1110.0 L1171.1,1110.7 L1171.6,1110.7 L1173.0,1109.2 L1173.4,1109.5 L1174.2,1111.7 L1174.7,1112.6 L1175.6,1111.3 L1176.5,1108.0 L1177.5,1110.0 L1177.5,1108.3 L1177.6,1111.1 L1178.7,1109.6 L1180.1,1112.6 L1180.6,1112.1 L1180.8,1115.0 L1181.9,1112.7 L1181.8,1113.8 L1182.2,1114.4 L1183.1,1112.8 L1184.2,1113.3 L1185.1,1115.0 L1186.0,1117.9 L1186.7,1119.6 L1187.4,1123.0 L1187.5,1123.3 L1187.7,1121.5 L1188.5,1118.7 L1189.6,1116.0 L1190.0,1111.7 L1190.1,1112.8 L1191.7,1117.0 L1192.3,1114.7 L1192.8,1116.6 L1193.3,1120.0 L1194.0,1119.2 L1194.0,1117.7 L1195.5,1112.7 L1195.8,1111.7 L1196.1,1113.1 L1197.6,1115.4 L1197.3,1114.6 L1198.0,1119.7 L1199.2,1120.0 L1199.4,1119.7 L1200.2,1119.8 L1201.0,1116.9 L1202.4,1118.2 L1202.5,1117.5 L1203.4,1120.4 L1204.5,1118.4 L1204.3,1120.5 L1205.2,1125.1 L1205.8,1125.0 L1206.8,1123.7 L1206.6,1127.8 L1207.9,1126.7 L1208.2,1126.4 L1209.3,1128.1 L1209.9,1129.8 L1210.0,1130.0 L1210.0,1129.0 L1210.9,1131.3 L1212.0,1127.4 L1212.0,1128.6 L1213.1,1129.3 L1213.6,1128.1 L1213.7,1128.9 L1215.0,1128.3 L1215.4,1127.6 L1216.3,1133.1 L1216.4,1130.8 L1217.9,1132.7 L1218.3,1135.0 L1218.6,1133.0 L1219.2,1131.3 L1220.2,1131.0 L1221.4,1125.0 L1221.3,1125.0 L1222.1,1129.5 L1223.2,1132.9 L1223.3,1135.0 L1224.1,1135.4 L1224.3,1133.6 L1225.5,1135.9 L1226.3,1134.8 L1226.0,1135.0 L1227.2,1133.6 L1227.5,1133.3 L1228.3,1132.9 L1228.8,1133.4 L1228.7,1133.3 L1229.6,1136.4 L1230.5,1133.9 L1230.7,1133.6 L1231.7,1135.0 L1232.1,1133.6 L1232.2,1137.0 L1233.5,1135.4 L1234.3,1135.0 L1234.3,1134.1 L1235.1,1135.4 L1236.4,1136.7 L1236.7,1136.7 L1237.9,1135.5 L1238.4,1136.1 L1237.9,1133.8 L1239.2,1136.9 L1239.4,1135.5 L1240.1,1135.4 L1240.8,1133.3 L1240.8,1133.7 L1242.6,1133.3 L1242.3,1132.7 L1242.7,1134.2 L1244.1,1134.5 L1244.3,1134.9 L1245.0,1136.7 L1245.8,1137.6 L1246.5,1134.0 L1247.3,1136.7 L1247.8,1132.1 L1248.3,1133.3 L1249.4,1135.7 L1249.3,1133.2 L1249.7,1135.6 L1251.2,1136.8 L1251.9,1135.6 L1251.7,1138.7 L1252.5,1138.3 L1253.3,1138.2 L1253.9,1138.1 L1253.7,1138.7 L1254.2,1139.8 L1255.2,1139.5 L1256.2,1138.7 L1256.7,1140.0 L1257.2,1138.3 L1258.5,1141.2 L1259.1,1139.5 L1259.2,1142.9 L1259.4,1140.6 L1259.8,1141.3 L1260.8,1143.3 L1261.8,1141.3 L1262.5,1142.5 L1262.7,1143.0 L1263.3,1143.1 L1264.0,1141.4 L1264.7,1140.8 L1265.0,1141.7 L1265.9,1142.6 L1266.6,1140.4 L1267.2,1143.1 L1267.3,1139.7 L1268.0,1142.4 L1268.1,1138.1 L1269.2,1140.0 L1269.7,1141.2 L1270.7,1140.3 L1271.6,1140.2 L1271.9,1140.1 L1271.5,1140.8 L1272.1,1142.9 L1273.3,1143.3 L1274.1,1141.6 L1275.3,1142.1 L1274.8,1140.9 L1276.3,1143.9 L1276.7,1141.7 L1276.9,1135.2 L1278.4,1131.6 L1278.7,1128.3 L1280.1,1133.3 L1280.3,1137.6 L1280.8,1143.3 L1281.8,1143.3 L1281.7,1145.4 L1282.5,1143.8 L1282.6,1145.1 L1283.1,1145.0 L1284.2,1146.3 L1284.4,1145.3 L1285.5,1147.2 L1286.9,1146.2 L1286.5,1144.8 L1287.5,1146.2 L1287.8,1146.3 L1288.4,1145.6 L1289.7,1147.8 L1289.7,1149.7 L1290.2,1148.1 L1290.8,1149.7 L1292.4,1147.4 L1292.5,1148.8 L1293.5,1150.5 L1293.4,1148.8 L1294.4,1151.6 L1294.5,1151.1 L1295.8,1150.4 L1296.4,1152.7 L1296.5,1153.1 L1297.3,1153.0 L1298.6,1150.7 L1298.8,1152.5 L1299.9,1154.3 L1299.7,1149.7 L1300.1,1153.5 L1300.6,1152.8 L1301.4,1151.7 L1301.9,1148.8 L1303.4,1148.1 L1303.5,1151.3 L1304.7,1150.8 L1305.0,1148.8 L1306.3,1146.9 L1305.9,1150.4 L1307.1,1147.3 L1307.5,1148.3 L1308.0,1147.9 L1308.1,1152.0 L1309.1,1151.7 L1309.5,1150.2 L1310.1,1150.1 L1311.2,1150.6 L1311.4,1151.4 L1312.0,1151.5 L1313.1,1148.7 L1313.5,1150.4 L1315.0,1149.7 L1314.6,1152.3 L1316.2,1151.2 L1315.9,1148.7 L1316.5,1148.2 L1317.5,1150.0 L1317.5,1150.2 L1318.6,1150.5 L1319.2,1148.2 L1320.3,1151.2 L1320.7,1150.8 L1321.5,1152.9 L1322.4,1151.8 L1322.4,1150.2 L1323.0,1153.2 L1323.8,1151.2 L1324.2,1150.6 L1324.9,1149.3 L1326.3,1148.5 L1326.4,1152.4 L1326.5,1150.8 L1327.3,1149.0 L1327.7,1148.2 L1329.2,1151.0 L1329.9,1147.6 L1330.0,1149.4 L1330.9,1149.0 L1331.5,1150.4 L1331.6,1152.7 L1331.8,1152.1 L1333.6,1151.5 L1333.8,1151.9 L1335.2,1151.5" fill="none" stroke="#ee4545" stroke-width="5.6" stroke-linejoin="miter" stroke-miterlimit="2" stroke-linecap="butt"/>
<path d="M1336.4,1154.5 L1336.7,261.3" fill="none" stroke="#ee4545" stroke-width="5"/>
<text class="src" x="59.45" y="1374.4" font-size="24.82" textLength="94.89" lengthAdjust="spacingAndGlyphs">SOURCE:</text>
<text class="src" x="166.0" y="1374.4" font-size="24.82" textLength="40.23" lengthAdjust="spacingAndGlyphs">U.S.</text>
<text class="src" x="212.3" y="1374.4" font-size="24.82" textLength="146.05" lengthAdjust="spacingAndGlyphs">DEPARTMENT</text>
<text class="src" x="366.19" y="1374.4" font-size="24.82" textLength="28.27" lengthAdjust="spacingAndGlyphs">OF</text>
<text class="src" x="401.38" y="1374.4" font-size="24.82" textLength="75.47" lengthAdjust="spacingAndGlyphs">LABOR</text>
<text class="logo" transform="scale(1.04,1)" x="1090.4 1129.19 1170.71 1212.04 1255.31" y="1343.6" font-size="69.5" stroke-width="3.4">yahoo</text>
<text class="logo" x="0" y="0" font-size="77.6" stroke-width="3.4" style="stroke-linejoin:round" transform="translate(1340.8,1344.3) skewX(-19.4) scale(1.265,1)">!</text>
<text class="logo" x="1221.11" y="1381.21" font-size="42.9" textLength="149.35" lengthAdjust="spacingAndGlyphs" stroke-width="1.6">finance</text>
</svg>
</body></html>
